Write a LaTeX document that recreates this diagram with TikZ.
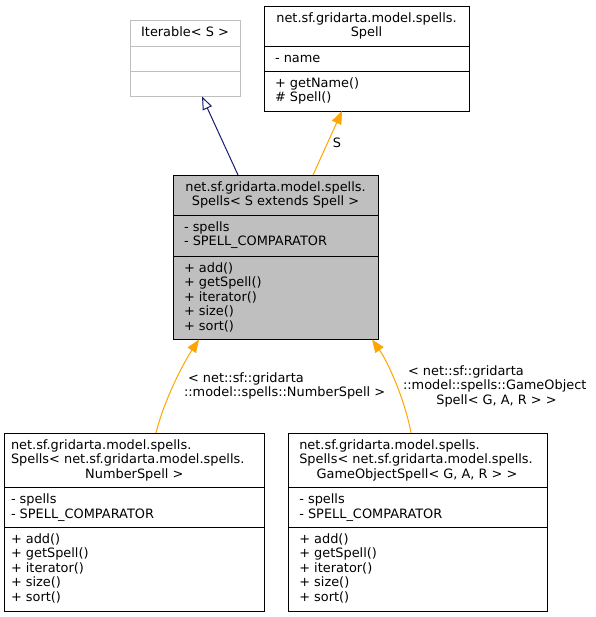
\documentclass[tikz,border=0pt]{standalone}
\usepackage{fontspec}
\setmainfont{DejaVu Sans}
\usetikzlibrary{arrows.meta,calc}
\definecolor{orng}{HTML}{FFA500}
\definecolor{navyc}{HTML}{191970}
\definecolor{grayfill}{HTML}{BFBFBF}
\definecolor{lgray}{HTML}{BFBFBF}
\newcommand\dfont{\fontsize{12.9pt}{14.5pt}\selectfont}
\begin{document}
\begin{tikzpicture}[x=1pt,y=-1pt,
  umlbox/.style={draw=black, line width=0.9pt, rectangle, inner sep=0pt, outer sep=0pt, anchor=north west},
  txt/.style={inner sep=0pt, outer sep=0pt, font=\dfont},
  tl/.style={txt, anchor=base west},
  tc/.style={txt, anchor=base},
  divl/.style={line width=0.9pt},
  orarrow/.style={draw=orng, line width=1pt, -{Triangle[length=13pt,width=10pt]}},
  navyarrow/.style={draw=navyc, line width=1pt, -{Triangle[open,length=13pt,width=10pt]}}]
\useasboundingbox (0,0) rectangle (595,617);

% ---- boxes ----
\node[umlbox, draw=lgray, minimum width=110pt, minimum height=76.5pt] (iter) at (130,20) {};
\draw[divl, lgray] (130,46) -- (240,46) (130,71) -- (240,71);

\node[umlbox, minimum width=205pt, minimum height=105pt] (spell) at (264,6) {};
\draw[divl] (264,46) -- (469,46) (264,71) -- (469,71);

\node[umlbox, fill=grayfill, minimum width=205pt, minimum height=164.5pt] (spells) at (173,175) {};
\draw[divl] (173,215) -- (378,215) (173,256) -- (378,256);

\node[umlbox, minimum width=259.5pt, minimum height=178.5pt] (num) at (4.5,433) {};
\draw[divl] (4.5,487.5) -- (264,487.5) (4.5,527) -- (264,527);

\node[umlbox, minimum width=259pt, minimum height=178.5pt] (gobj) at (288,433) {};
\draw[divl] (288,487.5) -- (547,487.5) (288,527) -- (547,527);

% ---- texts ----
\node[tc] (itt) at (185,36.3) {Iterable< S >};

\node[tc] (spt1) at (366.5,22.3) {net.sf.gridarta.model.spells.};
\node[tc] (spt2) at (366.5,36.8) {Spell};
\node[tl] (spf1) at (275,62.3) {- name};
\node[tl] (spm1) at (275,87.3) {+ getName()};
\node[tl] (spm2) at (275,101.8) {\# Spell()};

\node[tc] (mt1) at (275.5,191.3) {net.sf.gridarta.model.spells.};
\node[tc] (mt2) at (275.5,205.8) {Spells< S extends Spell >};
\node[tl] (mf1) at (184,231.3) {- spells};
\node[tl] (mf2) at (184,245.8) {- SPELL\_COMPARATOR};
\foreach \t [count=\i from 0] in {{+ add()},{+ getSpell()},{+ iterator()},{+ size()},{+ sort()}}
  \node[tl] (mm\i) at (184,272.3+14.5*\i) {\t};

\node[tl] (nt1) at (11,449.3) {net.sf.gridarta.model.spells.};
\node[tl] (nt2) at (11,463.8) {Spells< net.sf.gridarta.model.spells.};
\node[tc] (nt3) at (134.3,478.3) {NumberSpell >};
\node[tl] (nf1) at (11,503.8) {- spells};
\node[tl] (nf2) at (11,518.3) {- SPELL\_COMPARATOR};
\foreach \t [count=\i from 0] in {{+ add()},{+ getSpell()},{+ iterator()},{+ size()},{+ sort()}}
  \node[tl] (nm\i) at (11,543.3+14.5*\i) {\t};

\node[tl] (gt1) at (299.3,449.3) {net.sf.gridarta.model.spells.};
\node[tl] (gt2) at (299.3,463.8) {Spells< net.sf.gridarta.model.spells.};
\node[tc] (gt3) at (417,478.3) {GameObjectSpell< G, A, R > >};
\node[tl] (gf1) at (299.3,503.8) {- spells};
\node[tl] (gf2) at (299.3,518.3) {- SPELL\_COMPARATOR};
\foreach \t [count=\i from 0] in {{+ add()},{+ getSpell()},{+ iterator()},{+ size()},{+ sort()}}
  \node[tl] (gm\i) at (299.3,543.3+14.5*\i) {\t};

% ---- connectors ----
\draw[navyarrow] ($(spells.north west)+(65,0)$) -- ($(iter.south west)+(72,0)$);
\draw[orarrow] ($(spells.north west)+(140,0)$) -- ($(spell.south west)+(78,0)$);
\node[tc] (lblS) at (337,147.5) {S};

\draw[orarrow] ($(num.north west)+(151.5,0)$) .. controls (164,400) and (184,362) .. ($(spells.south west)+(26,0)$);
\node[tl] (ln1) at (188,382) {< net::sf::gridarta};
\node[tl] (ln2) at (184,396.5) {::model::spells::NumberSpell >};

\draw[orarrow] ($(gobj.north west)+(123,0)$) .. controls (405,400) and (388,362) .. ($(spells.south west)+(199,0)$);
\node[tl] (lg1) at (408,375) {< net::sf::gridarta};
\node[tl] (lg2) at (403,389.5) {::model::spells::GameObject};
\node[tc] (lg3) at (496.5,404) {Spell< G, A, R > >};
\end{tikzpicture}
\end{document}
